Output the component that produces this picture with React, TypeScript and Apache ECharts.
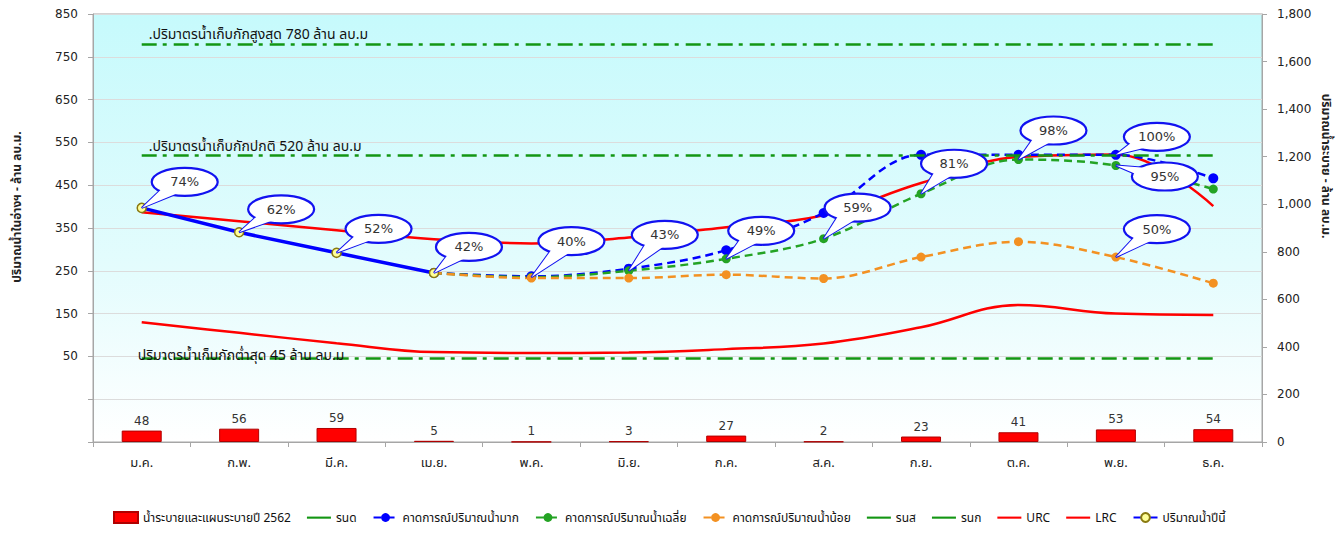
import React, { useEffect, useRef } from "react";
import * as echarts from "echarts";

// ---------- data ----------
const months = ["ม.ค.", "ก.พ.", "มี.ค.", "เม.ย.", "พ.ค.", "มิ.ย.", "ก.ค.", "ส.ค.", "ก.ย.", "ต.ค.", "พ.ย.", "ธ.ค."];
const releasePlan2562 = [48, 56, 59, 5, 1, 3, 27, 2, 23, 41, 53, 54];
const currentYear = [397, 340, 292, 245, null, null, null, null, null, null, null, null];
const forecastHigh = [null, null, null, 245, 237, 255, 298, 385, 521, 521, 521, 466];
const forecastAvg = [null, null, null, 245, 235, 250, 278, 325, 430, 510, 496, 441];
const forecastLow = [null, null, null, 245, 233, 233, 241, 232, 282, 318, 282, 221];
const urc = [387, 366, 345, 324, 314, 328, 352, 380, 455, 516, 522, 401];
const lrc = [130, 105, 81, 60, 58, 59, 67, 80, 118, 170, 150, 147];
const maxStorage = 780;
const normalStorage = 520;
const minStorage = 45;
const refLevels = [maxStorage, normalStorage, minStorage];
const refLabels = [
  ".ปริมาตรน้ำเก็บกักสูงสุด 780 ล้าน ลบ.ม",
  ".ปริมาตรน้ำเก็บกักปกติ 520 ล้าน ลบ.ม",
  "ปริมาตรน้ำเก็บกักต่ำสุด 45 ล้าน ลบ.ม",
];
const calloutMonth = [0, 1, 2, 3, 4, 5, 6, 7, 8, 9, 10, 10, 10];
const calloutSeries = ["current", "current", "current", "current", "avg", "avg", "avg", "avg", "avg", "avg", "high", "avg", "low"];
const calloutText = ["74%", "62%", "52%", "42%", "40%", "43%", "49%", "59%", "81%", "98%", "100%", "95%", "50%"];

// ---------- layout (pixels) ----------
const calloutOffsets = [
  [43, -26], [42, -23], [42, -24], [35, -26], [40, -36], [36, -36], [35, -28],
  [34, -31], [33, -30], [35, -29], [41, -18], [49, 11], [41, -28],
];
const refLabelOffsets = [[7, -9], [7, -9], [-4, -3]];

const seriesMap: Record<string, (number | null)[]> = {
  current: currentYear,
  high: forecastHigh,
  avg: forecastAvg,
  low: forecastLow,
};

const GREEN = "#139613";
const BLUE = "#0000ff";
const ORANGE = "#f39122";
const DOTGREEN = "#24a324";
const RED = "#ff0000";
const FONT_NUM = "'DejaVu Sans', Verdana, sans-serif";
const FONT_TH = "Tahoma, 'Noto Sans Thai', 'Noto Sans', 'DejaVu Sans', sans-serif";
// plain line legend icon (invisible move-to corners keep the stroke thin)
const LINE_ICON = "path://M0,0 M26,11 M0,4.5 L26,4.5 L26,6.8 L0,6.8 Z";

function refSeries(name: string, level: number) {
  return {
    name,
    type: "line",
    yAxisIndex: 0,
    data: [],
    symbol: "none",
    itemStyle: { color: GREEN },
    lineStyle: { color: GREEN, width: 2 },
    markLine: {
      silent: true,
      symbol: "none",
      label: { show: false },
      lineStyle: { color: GREEN, width: 2.5, type: [15, 6, 4, 7] },
      data: [[{ coord: [months[0], level] }, { coord: [months[months.length - 1], level] }]],
    },
  };
}

export default function App() {
  const ref = useRef<HTMLDivElement>(null);
  useEffect(() => {
    if (!ref.current) return;
    const chart = echarts.init(ref.current, undefined, { renderer: "svg" });
    const calloutData = calloutMonth.map((m, i) => [m, seriesMap[calloutSeries[i]][m]]);
    const option: any = {
      animation: false,
      textStyle: { fontFamily: FONT_TH },
      grid: {
        left: 93,
        right: 81,
        top: 14,
        bottom: 104,
        show: true,
        borderColor: "#a6a6a6",
        borderWidth: 1,
        backgroundColor: new echarts.graphic.LinearGradient(0, 0, 0, 1, [
          { offset: 0, color: "#c6fafc" },
          { offset: 0.6, color: "#e4fcfd" },
          { offset: 1, color: "#ffffff" },
        ]),
      },
      legend: {
        left: 108,
        top: 506,
        itemGap: 16,
        itemWidth: 24,
        itemHeight: 11,
        textStyle: { fontSize: 12, color: "#111", fontFamily: FONT_TH },
        data: [
          { name: "น้ำระบายและแผนระบายปี 2562", icon: "rect" },
          { name: "รนด", icon: LINE_ICON },
          "คาดการณ์ปริมาณน้ำมาก",
          "คาดการณ์ปริมาณน้ำเฉลี่ย",
          "คาดการณ์ปริมาณน้ำน้อย",
          { name: "รนส", icon: LINE_ICON },
          { name: "รนก", icon: LINE_ICON },
          { name: "URC", icon: LINE_ICON },
          { name: "LRC", icon: LINE_ICON },
          "ปริมาณน้ำปีนี้",
        ],
      },
      xAxis: {
        type: "category",
        data: months,
        boundaryGap: true,
        axisLine: { onZero: false, lineStyle: { color: "#a6a6a6" } },
        axisTick: { show: true, length: 5, lineStyle: { color: "#a6a6a6" } },
        axisLabel: { color: "#222", fontSize: 13, margin: 14, fontFamily: FONT_TH },
      },
      yAxis: [
        {
          type: "value",
          min: -150,
          max: 850,
          interval: 100,
          axisLine: { show: true, lineStyle: { color: "#a6a6a6" } },
          axisTick: { show: true, length: 5, lineStyle: { color: "#a6a6a6" } },
          splitLine: { lineStyle: { color: "#dcdcdc" } },
          axisLabel: {
            color: "#222",
            fontSize: 12,
            margin: 15,
            fontFamily: FONT_NUM,
            formatter: (v: number) => (v < 0 ? "" : String(v)),
          },
        },
        {
          type: "value",
          min: 0,
          max: 1800,
          interval: 200,
          position: "right",
          axisLine: { show: true, lineStyle: { color: "#a6a6a6" } },
          axisTick: { show: true, length: 5, lineStyle: { color: "#a6a6a6" } },
          splitLine: { show: false },
          axisLabel: {
            color: "#222",
            fontSize: 12,
            margin: 15,
            fontFamily: FONT_NUM,
            formatter: (v: number) => v.toLocaleString("en-US"),
          },
        },
      ],
      graphic: [
        {
          type: "text",
          x: 17,
          y: 207,
          rotation: Math.PI / 2,
          style: {
            text: "ปริมาณน้ำในอ่างฯ - ล้าน ลบ.ม.",
            align: "center",
            verticalAlign: "middle",
            fontSize: 12,
            fontWeight: "bold",
            fontFamily: FONT_TH,
            fill: "#222",
          },
        },
        {
          type: "text",
          x: 1326,
          y: 166,
          rotation: -Math.PI / 2,
          style: {
            text: "ปริมาณน้ำระบาย - ล้าน ลบ.ม.",
            align: "center",
            verticalAlign: "middle",
            fontSize: 12,
            fontWeight: "bold",
            fontFamily: FONT_TH,
            fill: "#222",
          },
        },
      ],
      series: [
        {
          name: "น้ำระบายและแผนระบายปี 2562",
          type: "bar",
          yAxisIndex: 1,
          data: releasePlan2562,
          barWidth: 40,
          itemStyle: { color: "#ff0000", borderColor: "#b00000", borderWidth: 1 },
          label: { show: true, position: "top", color: "#333", fontSize: 12, fontFamily: FONT_NUM, distance: 4 },
          z: 2,
        },
        refSeries("รนด", maxStorage),
        {
          name: "คาดการณ์ปริมาณน้ำมาก",
          type: "line",
          yAxisIndex: 0,
          data: forecastHigh,
          smooth: 0.35,
          symbol: "circle",
          symbolSize: 10,
          itemStyle: { color: BLUE },
          lineStyle: { color: BLUE, width: 2.5, type: [8, 5] },
          z: 4,
        },
        {
          name: "คาดการณ์ปริมาณน้ำเฉลี่ย",
          type: "line",
          yAxisIndex: 0,
          data: forecastAvg,
          smooth: 0.35,
          symbol: "circle",
          symbolSize: 9,
          itemStyle: { color: DOTGREEN },
          lineStyle: { color: DOTGREEN, width: 2.5, type: [8, 5] },
          z: 4,
        },
        {
          name: "คาดการณ์ปริมาณน้ำน้อย",
          type: "line",
          yAxisIndex: 0,
          data: forecastLow,
          smooth: 0.35,
          symbol: "circle",
          symbolSize: 9,
          itemStyle: { color: ORANGE },
          lineStyle: { color: ORANGE, width: 2.5, type: [8, 5] },
          z: 4,
        },
        refSeries("รนส", normalStorage),
        refSeries("รนก", minStorage),
        {
          name: "URC",
          type: "line",
          yAxisIndex: 0,
          data: urc,
          smooth: 0.4,
          symbol: "none",
          itemStyle: { color: RED },
          lineStyle: { color: RED, width: 2.5 },
          z: 3,
        },
        {
          name: "LRC",
          type: "line",
          yAxisIndex: 0,
          data: lrc,
          smooth: 0.4,
          symbol: "none",
          itemStyle: { color: RED },
          lineStyle: { color: RED, width: 2.5 },
          z: 3,
        },
        {
          name: "ปริมาณน้ำปีนี้",
          type: "line",
          yAxisIndex: 0,
          data: currentYear,
          symbol: "circle",
          symbolSize: 9,
          itemStyle: { color: "#ffff99", borderColor: "#8a7a10", borderWidth: 1.5 },
          lineStyle: { color: BLUE, width: 3.5 },
          z: 5,
        },
        {
          name: "refLabels",
          type: "custom",
          yAxisIndex: 0,
          silent: true,
          z: 6,
          data: refLevels.map((lv) => [0, lv]),
          renderItem: (params: any, api: any) => {
            const i = params.dataIndex;
            const p = api.coord([api.value(0), api.value(1)]);
            const [dx, dy] = refLabelOffsets[i];
            return {
              type: "text",
              x: p[0] + dx,
              y: p[1] + dy,
              style: {
                text: refLabels[i],
                align: "left",
                verticalAlign: "middle",
                fontSize: 14,
                fontFamily: FONT_TH,
                fill: "#111",
              },
            };
          },
        },
        {
          name: "callouts",
          type: "custom",
          yAxisIndex: 0,
          silent: true,
          z: 10,
          data: calloutData,
          renderItem: (params: any, api: any) => {
            const i = params.dataIndex;
            const p = api.coord([api.value(0), api.value(1)]);
            const [dx, dy] = calloutOffsets[i];
            const cx = p[0] + dx;
            const cy = p[1] + dy;
            const rx = 33;
            const ry = 14;
            const t = Math.atan2((p[1] - cy) / ry, (p[0] - cx) / rx);
            const b1 = [cx + rx * 0.8 * Math.cos(t - 0.38), cy + ry * 0.8 * Math.sin(t - 0.38)];
            const b2 = [cx + rx * 0.8 * Math.cos(t + 0.38), cy + ry * 0.8 * Math.sin(t + 0.38)];
            const tip = [p[0], p[1]];
            return {
              type: "group",
              children: [
                {
                  type: "polygon",
                  shape: { points: [tip, b1, b2] },
                  style: { fill: "#ffffff", stroke: "#1212f0", lineWidth: 2 },
                },
                {
                  type: "ellipse",
                  shape: { cx, cy, rx, ry },
                  style: { fill: "#ffffff", stroke: "#1212f0", lineWidth: 2.2 },
                },
                {
                  type: "polygon",
                  shape: { points: [tip, b1, b2] },
                  style: { fill: "#ffffff" },
                },
                {
                  type: "text",
                  x: cx,
                  y: cy,
                  style: {
                    text: calloutText[i],
                    align: "center",
                    verticalAlign: "middle",
                    fontSize: 13,
                    fontFamily: FONT_NUM,
                    fill: "#333",
                  },
                },
              ],
            };
          },
        },
      ],
    };
    chart.setOption(option);
    return () => chart.dispose();
  }, []);
  return <div ref={ref} style={{ width: 1343, height: 546, position: "absolute", left: 0, top: 0 }} />;
}
